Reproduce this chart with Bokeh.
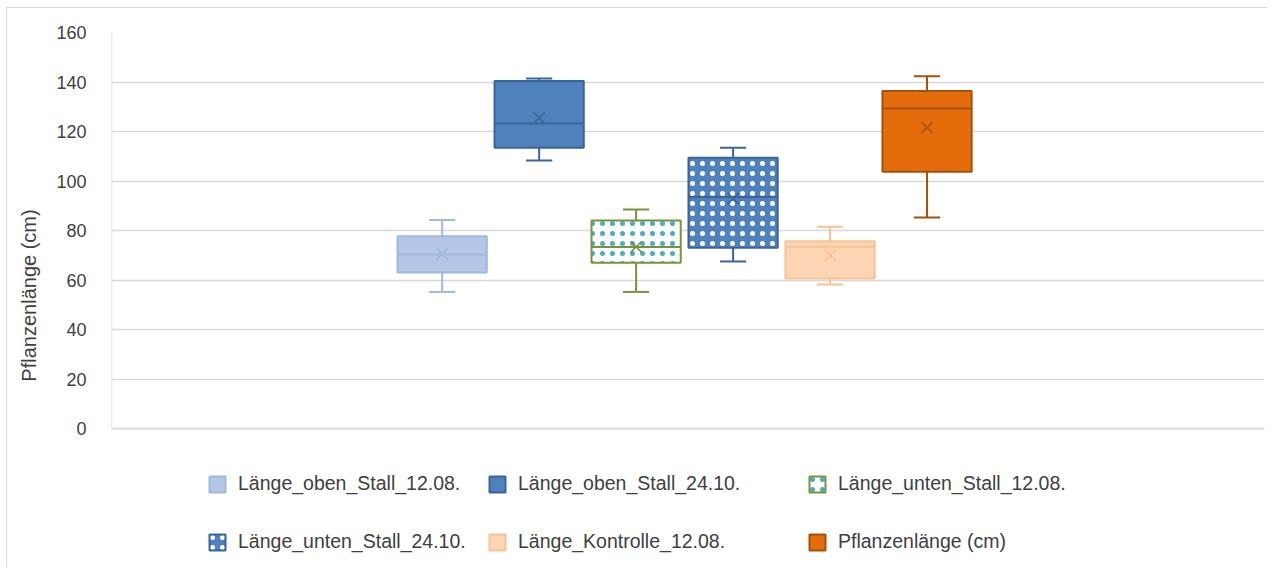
import numpy as np
from bokeh.plotting import figure
from bokeh.models import ColumnDataSource, Range1d, Legend, LegendItem, FixedTicker
from bokeh.embed import file_html
from bokeh.resources import INLINE

# ---- data ----
series = ["Länge_oben_Stall_12.08.", "Länge_oben_Stall_24.10.", "Länge_unten_Stall_12.08.",
          "Länge_unten_Stall_24.10.", "Länge_Kontrolle_12.08.", "Pflanzenlänge (cm)"]
whisker_low = [55.2, 108.3, 55.2, 67.5, 58.2, 85.3]
q1 = [63.0, 113.4, 67.0, 73.0, 60.6, 103.7]
median = [70.3, 123.2, 73.3, 93.5, 73.4, 129.3]
q3 = [77.7, 140.4, 84.0, 109.4, 75.7, 136.4]
whisker_high = [84.3, 141.4, 88.5, 113.4, 81.5, 142.3]
mean = [70.5, 125.5, 73.4, 92.9, 70.0, 121.6]
y_ticks = [0, 20, 40, 60, 80, 100, 120, 140, 160]

# ---- styles ----
fills = ["#b4c7e7", "#4f81bd", "#ffffff", "#4f81bd", "#fcd5b5", "#e46c0a"]
lines = ["#9fb8de", "#3a659c", "#77933c", "#3a659c", "#f9c294", "#a3520d"]
hatches = [None, None, "dot", "dot", None, None]
hatch_colors = ["#ffffff", "#ffffff", "#4bacc6", "#ffffff", "#ffffff", "#ffffff"]

FONT = "Liberation Sans"
TXT = "#404040"
GRID = "#d9d9d9"

X0, X1 = -3.41, 8.48
Y_LOW = -52.5  # room below the axis for the legend (frame extends there)

p = figure(width=1261, height=560, output_backend="svg", toolbar_location=None,
           x_range=Range1d(X0, X1), y_range=Range1d(Y_LOW, 160),
           min_border_left=104, min_border_right=4, min_border_top=24, min_border_bottom=10)
p.styles = {"border-left": "1px solid #d9d9d9", "border-top": "1px solid #d9d9d9",
            "margin-left": "6px", "margin-top": "7px"}
p.outline_line_color = None
p.background_fill_color = "white"
p.border_fill_color = "white"

p.xaxis.visible = False
p.xgrid.visible = False
p.yaxis.ticker = FixedTicker(ticks=y_ticks)
p.yaxis.major_tick_line_color = None
p.yaxis.minor_tick_line_color = None
p.yaxis.axis_line_color = None
p.yaxis.major_label_text_font = FONT
p.yaxis.major_label_text_font_size = "18px"
p.yaxis.major_label_text_color = TXT
p.yaxis.major_label_standoff = 19
p.yaxis.axis_label = "Pflanzenlänge (cm)"
p.yaxis.axis_label_text_font = FONT
p.yaxis.axis_label_text_font_size = "20px"
p.yaxis.axis_label_text_font_style = "normal"
p.yaxis.axis_label_text_color = TXT
p.yaxis.axis_label_standoff = 13
p.ygrid.grid_line_color = GRID
p.ygrid.grid_line_width = 1.5

# axis lines (x baseline at 0 and y axis from 0 to 160)
p.segment(x0=[X0], x1=[X1], y0=[0], y1=[0], line_color=GRID, line_width=1.5)
p.segment(x0=[X0], x1=[X0], y0=[0], y1=[160], line_color=GRID, line_width=1.5)

box_w = 0.92
cap_half = 0.135
renderers = []
for i, name in enumerate(series):
    src = ColumnDataSource(dict(x=[i], lo=[whisker_low[i]], q1=[q1[i]], med=[median[i]],
                                q3=[q3[i]], hi=[whisker_high[i]], mean=[mean[i]],
                                cl=[i - cap_half], cr=[i + cap_half],
                                bl=[i - box_w / 2], br=[i + box_w / 2]))
    p.segment(x0="x", x1="x", y0="lo", y1="q1", source=src, line_color=lines[i], line_width=2)
    p.segment(x0="x", x1="x", y0="q3", y1="hi", source=src, line_color=lines[i], line_width=2)
    p.segment(x0="cl", x1="cr", y0="lo", y1="lo", source=src, line_color=lines[i], line_width=2)
    p.segment(x0="cl", x1="cr", y0="hi", y1="hi", source=src, line_color=lines[i], line_width=2)
    kw = {}
    if hatches[i]:
        kw = dict(hatch_pattern=hatches[i], hatch_color=hatch_colors[i], hatch_scale=10, hatch_weight=0.8)
    r = p.vbar(x="x", top="q3", bottom="q1", width=box_w, source=src, fill_color=fills[i],
               line_color=lines[i], line_width=2, **kw)
    renderers.append(r)
    p.segment(x0="bl", x1="br", y0="med", y1="med", source=src, line_color=lines[i], line_width=2)
    p.scatter(x="x", y="mean", source=src, marker="x", size=16, line_color=lines[i], line_width=1.6)

# legend: three columns below the axis
cols = [[0, 3], [1, 4], [2, 5]]
xoffs = [96, 376, 696]
for col, xo in zip(cols, xoffs):
    lg = Legend(items=[LegendItem(label=series[k], renderers=[renderers[k]]) for k in col],
                location=(xo, 5), orientation="vertical", padding=0, margin=0,
                spacing=35, glyph_width=20, glyph_height=20, label_standoff=11, label_height=20,
                label_text_font=FONT, label_text_font_size="19.5px", label_text_color=TXT,
                border_line_color=None, background_fill_alpha=0)
    p.add_layout(lg, "center")

open("out.html", "w").write(file_html(p, INLINE))
